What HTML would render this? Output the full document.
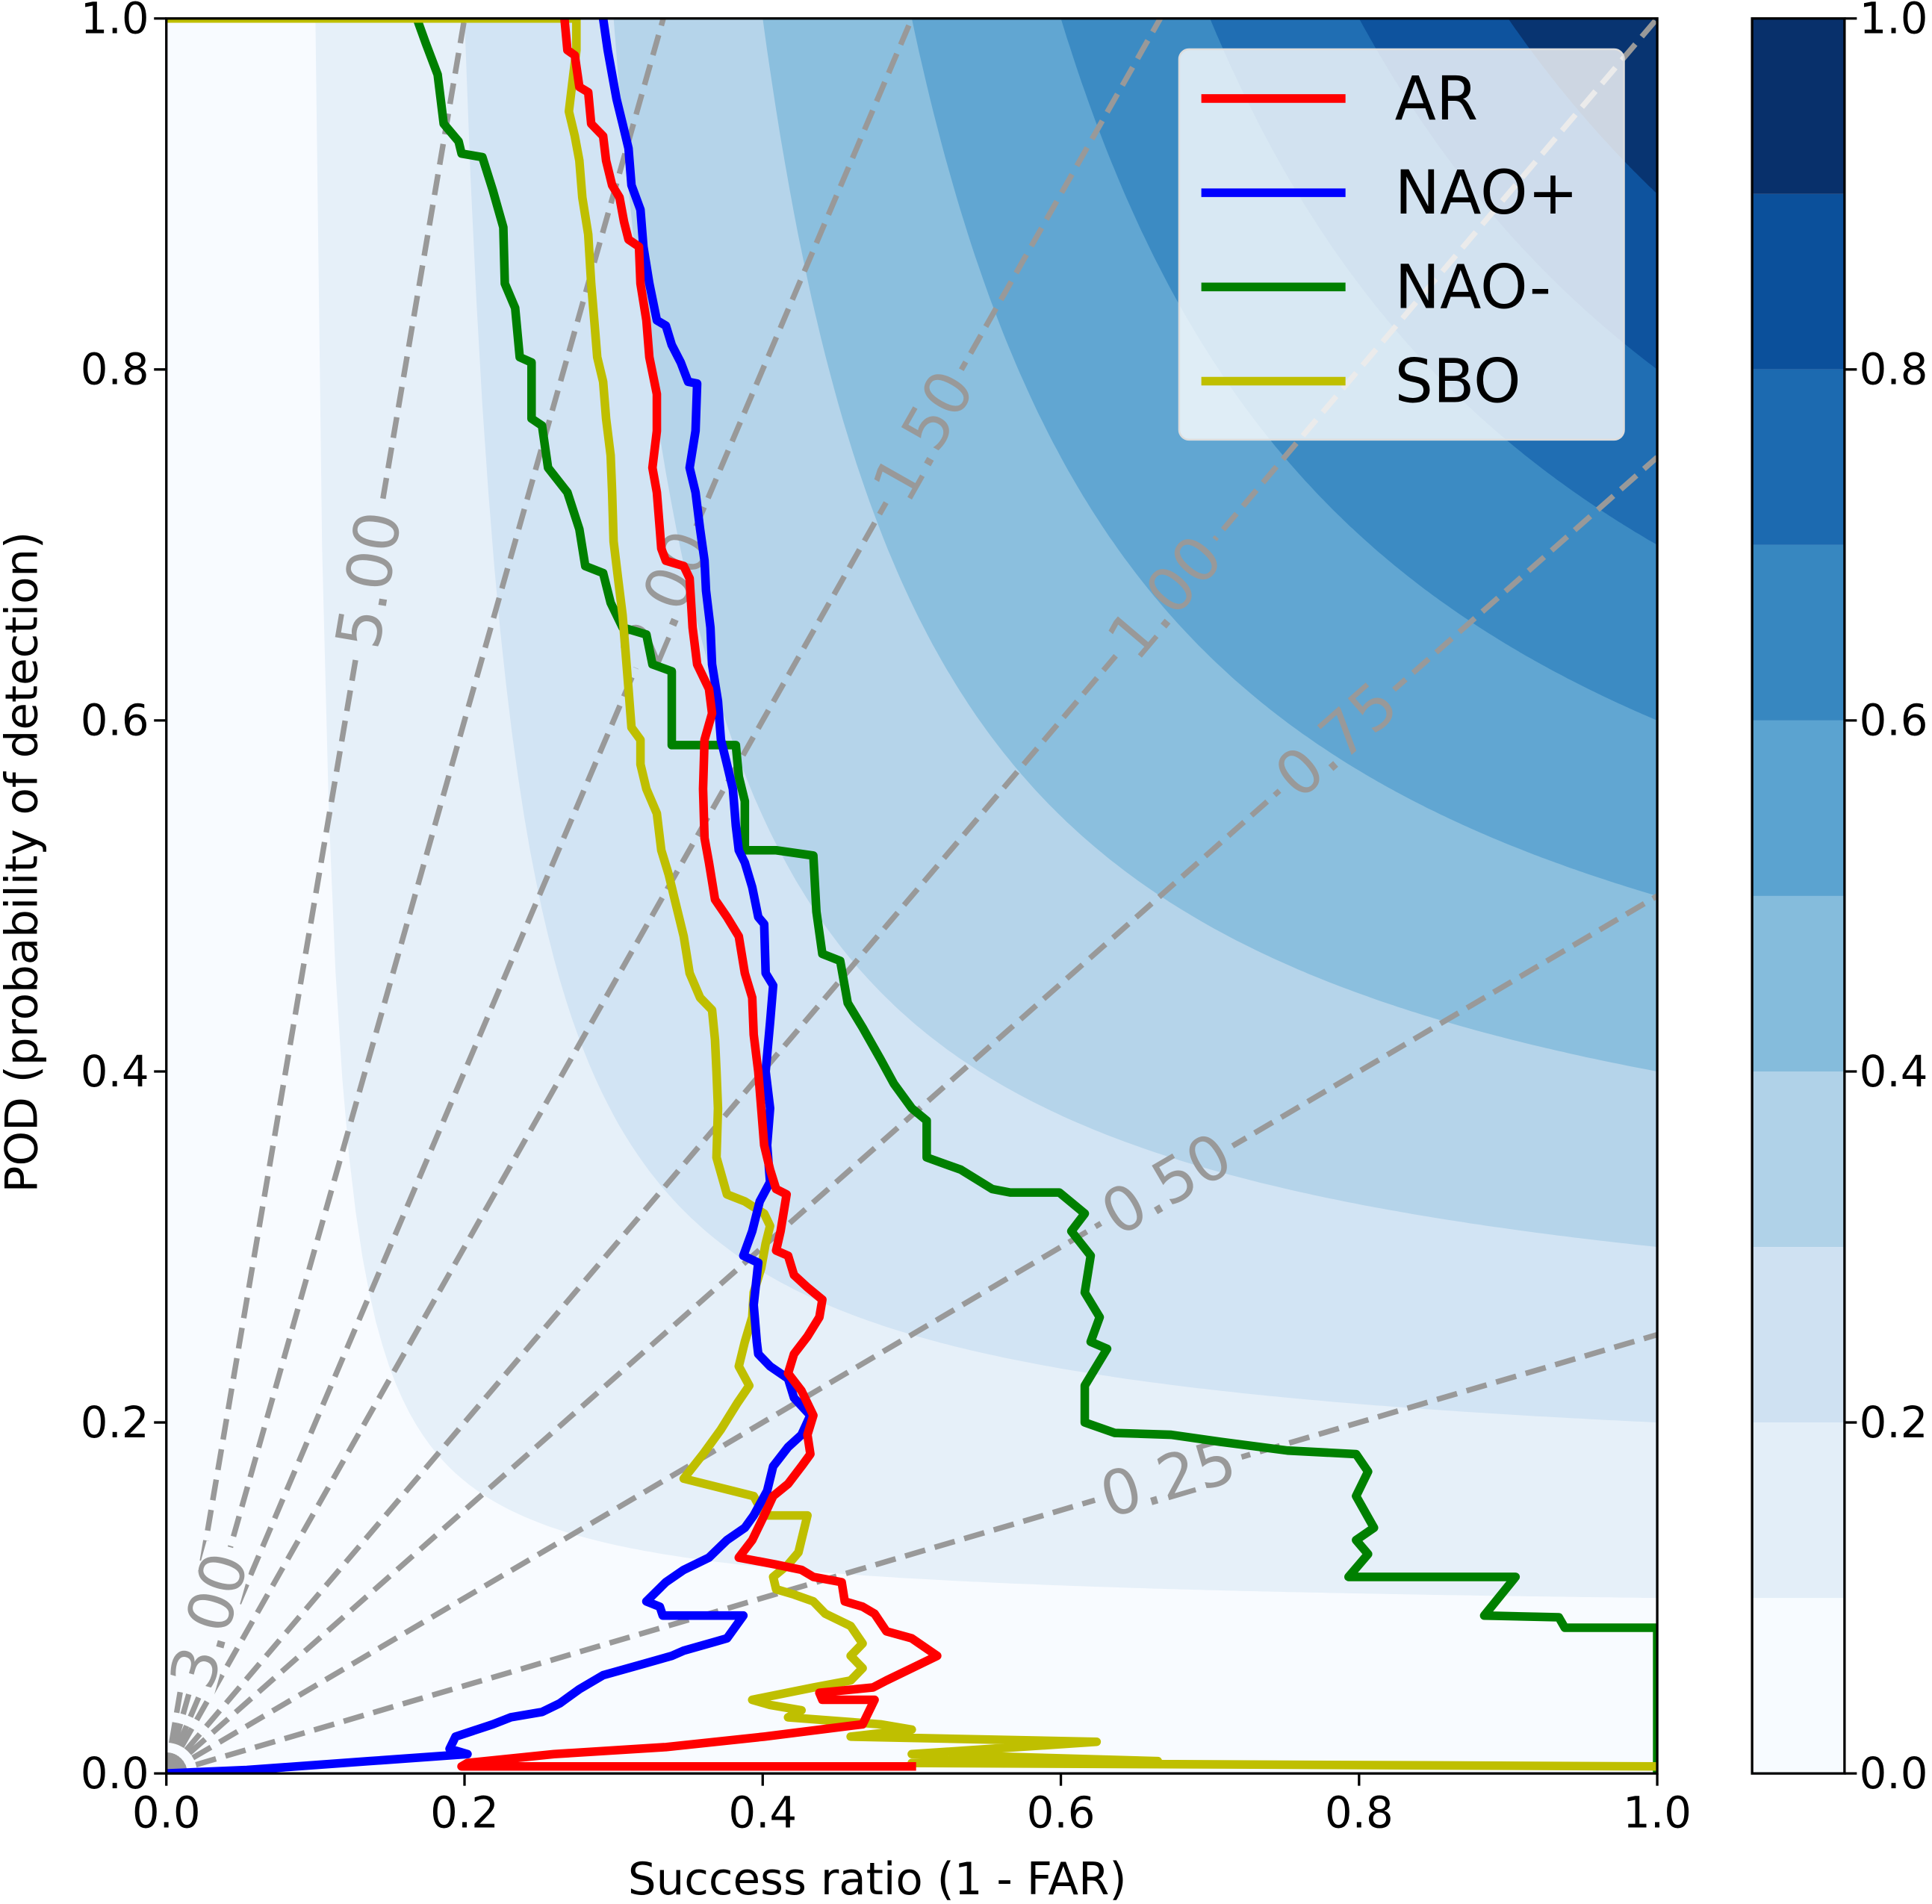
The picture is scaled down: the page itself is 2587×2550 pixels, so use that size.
<!DOCTYPE html>
<html><head><meta charset="utf-8">
<style>
html,body{margin:0;padding:0;background:#fff;}
svg{display:block;font-family:"DejaVu Sans","Liberation Sans",sans-serif;}
</style></head>
<body>
<svg id="chart" width="2587" height="2550" viewBox="0 0 1568 1546" preserveAspectRatio="none" xmlns="http://www.w3.org/2000/svg">
<defs><clipPath id="plotclip"><rect x="135" y="15" width="1210" height="1425"/></clipPath>
<mask id="biasmask" maskUnits="userSpaceOnUse" x="0" y="0" width="1568" height="1546"><rect x="0" y="0" width="1568" height="1546" fill="#fff"/><g id="maskholes"></g></mask></defs>
<g id="csi" clip-path="url(#plotclip)"></g>
<g clip-path="url(#plotclip)"><g id="bias" mask="url(#biasmask)"></g></g>
<g id="biaslabels"></g>
<g id="series" clip-path="url(#plotclip)"></g>
<rect x="135" y="15" width="1210" height="1425" fill="none" stroke="#000" stroke-width="2"/>
<g id="xaxis"></g>
<g id="yaxis"></g>
<text x="712" y="1538" font-size="36" text-anchor="middle">Success ratio (1 - FAR)</text>
<text x="0" y="0" font-size="36" text-anchor="middle" transform="translate(30,700) rotate(-90)">POD (probability of detection)</text>
<g id="legend">
<rect x="957" y="40" width="361" height="317" rx="8" fill="#fff" fill-opacity="0.8" stroke="#ddd" stroke-width="1.5"/>
</g>
<g id="cbar"></g>
</svg>
<script>
const levels=[0,0.1,0.2,0.3,0.4,0.5,0.6,0.7,0.8,0.9,1.0];
const bandColors=["#f7fbff","#e3eef8","#cfe1f2","#b0d2e8","#85bcdc","#5ba3d0","#3787c0","#1c6ab0","#0b509b","#08306b"];
const biasValues=[0.25,0.5,0.75,1,1.5,2,3,5];
const biasLabels=["0.25","0.50","0.75","1.00","1.50","2.00","3.00","5.00"];
const biasLabelSR=[0.672,0.671,0.785,0.670,0.508,0.335,0.029,0.136];
const xTicks=[0,0.2,0.4,0.6,0.8,1.0];
const xTickLabels=["0.0","0.2","0.4","0.6","0.8","1.0"];
const yTicks=[0,0.2,0.4,0.6,0.8,1.0];
const yTickLabels=["0.0","0.2","0.4","0.6","0.8","1.0"];
const seriesNames=["AR","NAO+","NAO-","SBO"];
const seriesColors=["#ff0000","#0000ff","#008000","#bfbf00"];
const arSR=[.267,.269,.274,.277,.283,.285,.293,.295,.299,.304,.307,.310,.317,.318,.322,.324,.329,.329,.326,.329,.331,.332,.335,.347,.351,.353,.356,.364,.366,.361,.360,.361,.364,.368,.376,.384,.388,.393,.394,.397,.399,.401,.405,.409,.416,.412,.409,.417,.421,.430,.440,.438,.430,.421,.417,.426,.434,.430,.432,.426,.417,.407,.401,.393,.384,.409,.426,.434,.453,.455,.467,.475,.483,.500,.517,.500,.483,.474,.438,.440,.475,.467,.401,.335,.260,.202,.198,.500];
const arPOD=[1.0,.982,.979,.961,.958,.940,.933,.919,.905,.898,.884,.874,.870,.849,.828,.807,.786,.765,.744,.730,.709,.698,.691,.688,.681,.653,.632,.618,.604,.589,.561,.533,.519,.498,.488,.477,.456,.442,.421,.400,.379,.358,.344,.333,.330,.309,.298,.295,.284,.277,.270,.260,.249,.239,.228,.218,.204,.193,.182,.175,.165,.158,.147,.133,.123,.119,.116,.112,.109,.098,.095,.091,.081,.077,.067,.060,.053,.049,.046,.042,.042,.028,.021,.015,.011,.006,.004,.004];
const naopSR=[.293,.296,.299,.302,.306,.310,.312,.318,.320,.324,.329,.335,.339,.345,.350,.356,.355,.351,.355,.358,.361,.362,.365,.366,.370,.372,.376,.380,.382,.384,.388,.393,.397,.401,.402,.407,.405,.402,.405,.403,.405,.398,.393,.387,.397,.394,.396,.397,.405,.417,.421,.432,.426,.417,.407,.403,.394,.388,.376,.364,.347,.335,.322,.331,.333,.387,.376,.368,.347,.339,.318,.293,.277,.264,.252,.231,.219,.194,.190,.202,.136,.054,0];
const naopPOD=[1.0,.982,.968,.954,.940,.926,.905,.891,.870,.849,.828,.825,.814,.804,.793,.792,.765,.744,.730,.709,.691,.674,.653,.632,.611,.589,.575,.561,.540,.526,.519,.505,.488,.484,.456,.449,.428,.400,.379,.358,.337,.326,.309,.295,.291,.267,.246,.239,.232,.225,.214,.204,.193,.186,.175,.161,.147,.140,.133,.123,.116,.109,.098,.095,.090,.090,.077,.075,.070,.067,.062,.056,.048,.040,.035,.032,.028,.021,.014,.011,.007,.002,0];
const naomSR=[.168,.174,.182,.186,.196,.198,.212,.219,.226,.227,.234,.237,.245,.245,.252,.256,.269,.277,.281,.293,.298,.306,.322,.326,.339,.339,.382,.384,.388,.388,.409,.434,.436,.440,.452,.457,.467,.479,.488,.500,.510,.510,.533,.554,.566,.599,.616,.607,.620,.616,.626,.620,.631,.616,.616,.636,.674,.707,.752,.798,.806,.798,.810,.798,.806,.793,.905,.884,.934,.938,1.0,1.0];
const naomPOD=[1.0,.986,.968,.940,.930,.923,.921,.902,.881,.849,.835,.807,.804,.772,.768,.744,.730,.709,.688,.684,.667,.653,.649,.632,.628,.586,.586,.568,.554,.526,.526,.523,.491,.467,.463,.439,.425,.407,.393,.379,.372,.351,.344,.333,.331,.331,.319,.309,.295,.274,.260,.246,.242,.221,.200,.194,.193,.189,.184,.182,.172,.158,.140,.133,.125,.112,.112,.090,.089,.083,.083,0];
const sboSR=[0,.275,.275,.273,.270,.274,.277,.279,.283,.285,.287,.289,.293,.295,.298,.299,.300,.303,.306,.308,.310,.312,.318,.318,.322,.329,.332,.337,.341,.347,.351,.358,.366,.368,.369,.370,.369,.376,.388,.401,.405,.402,.399,.394,.393,.388,.384,.391,.383,.372,.360,.347,.380,.394,.401,.430,.424,.417,.407,.409,.421,.434,.442,.459,.467,.459,.467,.459,.434,.393,.405,.426,.417,.479,.500,.459,.624,.500,.665,.500,1.0];
const sboPOD=[1.0,1.0,.982,.968,.947,.933,.919,.898,.877,.849,.828,.807,.793,.772,.751,.730,.702,.681,.660,.639,.618,.596,.589,.575,.561,.547,.526,.512,.498,.477,.456,.442,.435,.418,.400,.379,.351,.330,.326,.319,.312,.302,.288,.274,.260,.246,.232,.221,.211,.196,.182,.168,.161,.158,.147,.147,.126,.119,.112,.105,.102,.098,.091,.084,.074,.067,.060,.053,.049,.042,.039,.036,.032,.028,.025,.021,.018,.011,.007,.006,.004];

const NS="http://www.w3.org/2000/svg";
const X0=135,X1=1345,Y0=15,Y1=1440;
function xs(v){return X0+v*(X1-X0);}
function ys(v){return Y1-v*(Y1-Y0);}
function mk(tag,attrs,parent){const e=document.createElementNS(NS,tag);for(const k in attrs)e.setAttribute(k,attrs[k]);parent.appendChild(e);return e;}

const gC=document.getElementById('csi');
for(let i=0;i<bandColors.length;i++){
  const c=levels[i];let pts=[];
  if(c===0){pts=[[0,0],[1,0],[1,1],[0,1]];}
  else{
    for(let k=0;k<=200;k++){const sr=c+(1-c)*k/200;const pod=1/(1/c+1-1/sr);pts.push([sr,pod]);}
    pts.push([1,1]);
  }
  const p=mk('polygon',{points:pts.map(q=>xs(q[0]).toFixed(1)+','+ys(q[1]).toFixed(1)).join(' '),fill:bandColors[i],'fill-opacity':'0.88'},gC);
  
  
}

const gB=document.getElementById('bias');
for(let i=0;i<biasValues.length;i++){
  const b=biasValues[i];
  const l=mk('line',{x1:xs(0),y1:ys(0),x2:xs(1),y2:ys(b),stroke:'#999','stroke-width':4.5,'stroke-dasharray':'17 8'},gB);
  
  
}
const gBL=document.getElementById('biaslabels');
const holes=document.getElementById('maskholes');
for(let i=0;i<biasValues.length;i++){
  const b=biasValues[i],sr=biasLabelSR[i];
  const cx=xs(sr),cy=ys(b*sr);
  const ang=Math.atan2(-(Y1-Y0)*b,(X1-X0))*180/Math.PI;
  const tr='translate('+cx+','+cy+') rotate('+ang+')';
  mk('rect',{x:-62,y:-20,width:124,height:40,fill:'#000',transform:tr},holes);
  const t=mk('text',{x:0,y:0,'font-size':50,fill:'#999','text-anchor':'middle','dominant-baseline':'central',transform:tr},gBL);
  t.textContent=biasLabels[i];
  
  
}

const gS=document.getElementById('series');
const srs=[arSR,naopSR,naomSR,sboSR],pods=[arPOD,naopPOD,naomPOD,sboPOD];
const order=[2,3,1,0];
const sid=["ar","nao-plus","nao-minus","sbo"];
for(const i of order){
  const d=srs[i].map((v,k)=>xs(v).toFixed(1)+','+ys(pods[i][k]).toFixed(1)).join(' ');
  const pl=mk('polyline',{points:d,fill:'none',stroke:seriesColors[i],'stroke-width':7,'stroke-linejoin':'round','stroke-linecap':'square'},gS);
  
  
}

const gX=document.getElementById('xaxis');
xTicks.forEach((v,i)=>{
  const tk=mk('line',{x1:xs(v),y1:Y1,x2:xs(v),y2:Y1+10,stroke:'#000','stroke-width':2},gX);
  
  
  const t=mk('text',{x:xs(v),y:Y1+44,'font-size':35,'text-anchor':'middle'},gX);
  t.textContent=xTickLabels[i];
  
  
});
const gY=document.getElementById('yaxis');
yTicks.forEach((v,i)=>{
  const tk=mk('line',{x1:X0-10,y1:ys(v),x2:X0,y2:ys(v),stroke:'#000','stroke-width':2},gY);
  
  
  const t=mk('text',{x:X0-14,y:ys(v)+12,'font-size':35,'text-anchor':'end'},gY);
  t.textContent=yTickLabels[i];
  
  
});

const gL=document.getElementById('legend');
seriesNames.forEach((n,i)=>{
  const y=80+i*76.5;
  const l=mk('line',{x1:975,y1:y,x2:1092,y2:y,stroke:seriesColors[i],'stroke-width':7},gL);
  
  
  const t=mk('text',{x:1132,y:y+17,'font-size':49},gL);
  t.textContent=n;
  
  
});

const gCB=document.getElementById('cbar');
const CX0=1422,CX1=1497;
for(let i=0;i<bandColors.length;i++){
  const yT=ys(levels[i+1]),yB=ys(levels[i]);
  const r=mk('rect',{x:CX0,y:yT,width:CX1-CX0,height:yB-yT,fill:bandColors[i]},gCB);
  
  
}
const fr=mk('rect',{x:CX0,y:Y0,width:CX1-CX0,height:Y1-Y0,fill:'none',stroke:'#000','stroke-width':2},gCB);


yTicks.forEach((v,i)=>{
  const tk=mk('line',{x1:CX1,y1:ys(v),x2:CX1+10,y2:ys(v),stroke:'#000','stroke-width':2},gCB);
  
  
  const t=mk('text',{x:CX1+12,y:ys(v)+12,'font-size':35},gCB);
  t.textContent=yTickLabels[i];
  
  
});
</script>
</body></html>
